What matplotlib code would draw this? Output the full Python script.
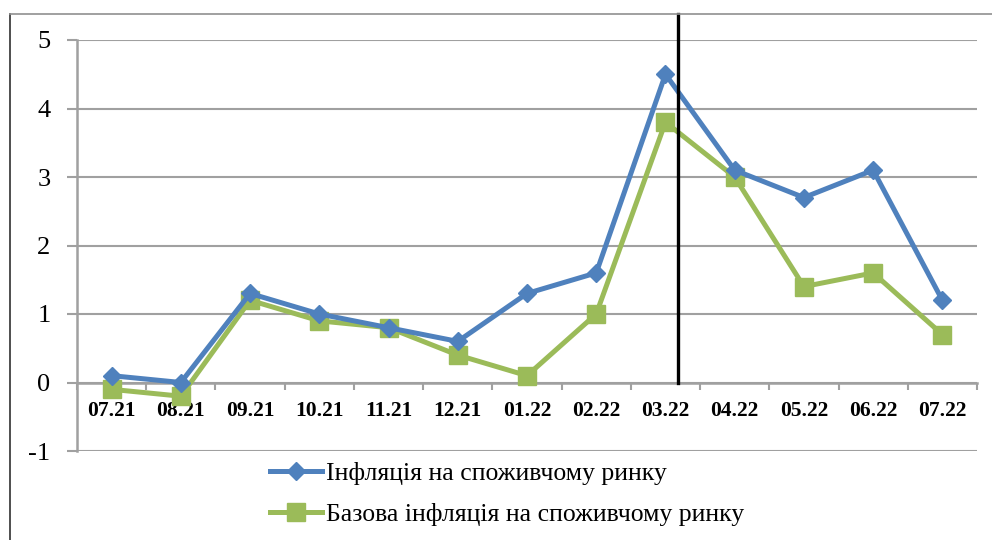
import matplotlib
matplotlib.use("Agg")
import matplotlib.pyplot as plt
from matplotlib.lines import Line2D
import numpy as np

categories = ["07.21", "08.21", "09.21", "10.21", "11.21", "12.21", "01.22",
              "02.22", "03.22", "04.22", "05.22", "06.22", "07.22"]
cpi = [0.1, 0.0, 1.3, 1.0, 0.8, 0.6, 1.3, 1.6, 4.5, 3.1, 2.7, 3.1, 1.2]
core = [-0.1, -0.2, 1.2, 0.9, 0.8, 0.4, 0.1, 1.0, 3.8, 3.0, 1.4, 1.6, 0.7]
y_ticks = [-1, 0, 1, 2, 3, 4, 5]
series_names = ["Інфляція на споживчому ринку", "Базова інфляція на споживчому ринку"]
marker_line_pos = 8.18

plt.rcParams['font.family'] = ['Liberation Serif', 'DejaVu Serif']

fig = plt.figure(figsize=(9.92, 5.4), dpi=100)
ax = fig.add_axes([77/992, 1-451/540, 900/992, (451-40)/540])

x = np.arange(len(categories))
blue = '#4F81BD'
green = '#9BBB59'
l1, = ax.plot(x, cpi, color=blue, lw=3.6, marker='D', ms=9.5, zorder=4,
              label=series_names[0])
l2, = ax.plot(x, core, color=green, lw=3.6, marker='s', ms=13, zorder=3,
              label=series_names[1])

ax.set_xlim(-0.5, len(categories) - 0.5)
ax.set_ylim(-1, 5)
ax.set_yticks(y_ticks)
ax.set_yticklabels([str(v) for v in y_ticks], fontsize=19)
ax.yaxis.grid(True, color='#A0A0A0', lw=1.5)
ax.set_axisbelow(True)

for s in ['top', 'right']:
    ax.spines[s].set_visible(False)
ax.spines['left'].set_color('#A0A0A0')
ax.spines['left'].set_linewidth(1.8)
ax.spines['bottom'].set_position(('data', 0))
ax.spines['bottom'].set_color('#A0A0A0')
ax.spines['bottom'].set_linewidth(1.8)
ax.tick_params(axis='y', length=7, width=1.5, color='#A0A0A0', pad=12)

ax.set_xticks(x)
ax.set_xticklabels(categories, fontsize=15.5, fontweight='bold')
ax.set_xticks(np.arange(len(categories) + 1) - 0.5, minor=True)
ax.tick_params(axis='x', which='major', length=0, pad=13)
ax.tick_params(axis='x', which='minor', length=5, width=1.5, color='#A0A0A0', direction='out')

# vertical black marker line
ax.plot([marker_line_pos, marker_line_pos], [0, 5.38], color='black', lw=2.4,
        clip_on=False, zorder=5)

# figure border
fig.add_artist(Line2D([10/992, 10/992], [0, 1-14/540], transform=fig.transFigure,
                      color='#303030', lw=1.2))
fig.add_artist(Line2D([10/992, 1], [1-14/540, 1-14/540], transform=fig.transFigure,
                      color='#909090', lw=1.2))

leg = fig.legend(handles=[l1, l2], loc='upper left', bbox_to_anchor=(260/992, 1-452/540),
                 frameon=False, fontsize=18.5, handlelength=2.0, handletextpad=0.15,
                 labelspacing=0.7, borderaxespad=0)

fig.savefig("out.png", dpi=100)
